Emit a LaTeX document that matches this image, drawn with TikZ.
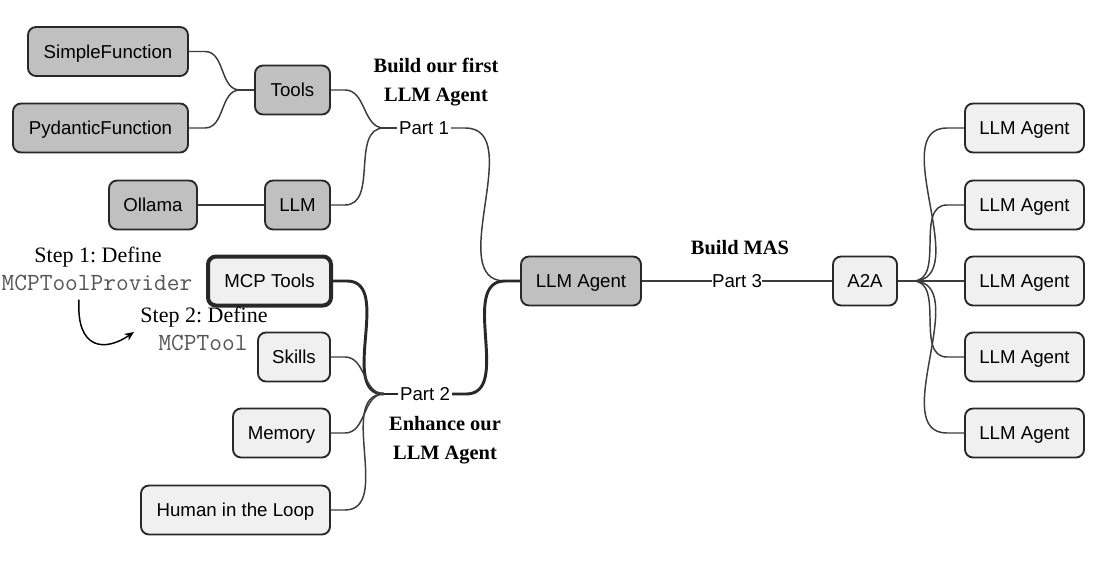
\documentclass[tikz,border=0pt]{standalone}
\usepackage{fontspec}
\setmainfont{Liberation Serif}
\newfontfamily\boxfont{Liberation Sans}
\usetikzlibrary{arrows.meta,calc}
\definecolor{darkfill}{RGB}{192,192,192}
\definecolor{lightfill}{RGB}{240,240,240}
\definecolor{edgecol}{RGB}{40,40,40}
\definecolor{linecol}{RGB}{60,60,60}
\definecolor{codegray}{RGB}{85,85,85}
\frenchspacing
\begin{document}
\begin{tikzpicture}[x=0.75pt,y=-0.75pt,
  box/.style={draw=edgecol, line width=1.4pt, rounded corners=6pt,
    font=\boxfont\fontsize{14}{17}\selectfont, minimum height=36.75pt, inner sep=0pt,
    text height=10pt, text depth=0pt},
  dbox/.style={box, fill=darkfill},
  lbox/.style={box, fill=lightfill},
  part/.style={font=\boxfont\fontsize{14}{17}\selectfont, inner xsep=1.5pt, inner ysep=0pt,
    text height=10pt, text depth=0pt},
  title/.style={font=\bfseries\fontsize{15.3}{21.75}\selectfont, align=center},
  steplbl/.style={font=\fontsize{16.5}{20}\selectfont},
  code/.style={font=\ttfamily\fontsize{18.5}{22}\selectfont, text=codegray},
  conn/.style={draw=linecol, line width=1.1pt},
  thick conn/.style={draw=edgecol, line width=2.2pt},
]
\useasboundingbox (0,0) rectangle (1100,564);

% Part 1 subtree
\node[dbox, minimum width=120pt] (sf) at (108,51.5) {SimpleFunction};
\node[dbox, minimum width=131.25pt] (pf) at (100.5,128) {PydanticFunction};
\node[dbox, minimum width=56.25pt] (tools) at (292.5,90) {Tools};
\node[dbox, minimum width=66pt] (ollama) at (153,205) {Ollama};
\node[dbox, minimum width=48.75pt] (llm) at (297.5,205) {LLM};
\node[part] (p1) at (424,128) {Part 1};
\node[title] (t1) at (436,82) {Build our first\\LLM Agent};
\coordinate (bt) at (240,90);
\coordinate (b1) at (384,128);

% Part 2 subtree
\node[lbox, minimum width=92.25pt, line width=3pt] (mcp) at (269.5,281) {MCP Tools};
\node[lbox, minimum width=54pt] (skills) at (294,357) {Skills};
\node[lbox, minimum width=72.75pt] (mem) at (281.5,433) {Memory};
\node[lbox, minimum width=141.75pt] (hitl) at (235.5,510) {Human in the Loop};
\node[part] (p2) at (425,394) {Part 2};
\node[title] (t2) at (445,440) {Enhance our\\LLM Agent};
\coordinate (b2) at (384,394);

% centre
\node[dbox, minimum width=90pt] (la) at (581,281) {LLM Agent};
\coordinate (laIn) at (505,281);
\node[part, inner xsep=0pt] (p3) at (737,281) {Part 3};
\node[title] (t3) at (740,248) {Build MAS};
\node[lbox, minimum width=48pt] (a2a) at (865,281) {A2A};
\coordinate (b3) at (913,281);

% right agents
\foreach \i/\y in {1/128,2/205,3/281,4/357,5/433}{
  \node[lbox, minimum width=89.25pt] (ag\i) at (1024.5,\y) {LLM Agent};
}

% step annotations
\node[steplbl] (s1) at (98,257) {Step 1: Define};
\node[code] (c1) at (97,283) {MCPToolProvider};
\node[steplbl] (s2) at (204,317) {Step 2: Define};
\node[code] (c2) at (203,343) {MCPTool};
\coordinate (arrEnd) at (134,332);
\draw[line width=1.1pt, -{Stealth[length=7pt,width=6pt]}]
  ($(c1.south)+(-18,4)$) .. controls (76,350) and (105,352) .. (arrEnd);

% connectors part 1
\draw[conn] (sf.east) -- ++(16,0) to[out=0,in=180] (bt);
\draw[conn] (pf.east) -- ++(16,0) to[out=0,in=180] (bt);
\draw[conn] (bt) -- (tools.west);
\draw[conn] (ollama.east) -- (llm.west);
\draw[conn] (tools.east) -- ++(14,0) to[out=0,in=180] (b1);
\draw[conn] (llm.east) -- ++(14,0) to[out=0,in=180] (b1);
\draw[conn] (b1) -- (p1.west);
\draw[conn] (p1.east) -- ++(14,0) to[out=0,in=180] (laIn) -- (la.west);

% connectors part 2
\draw[thick conn] (mcp.east) -- ++(14,0) to[out=0,in=180] (b2);
\draw[conn] (skills.east) -- ++(14,0) to[out=0,in=180] (b2);
\draw[conn] (mem.east) -- ++(14,0) to[out=0,in=180] (b2);
\draw[conn] (hitl.east) -- ++(14,0) to[out=0,in=180] (b2);
\draw[thick conn] (b2) -- (p2.west);
\draw[thick conn] (p2.east) -- ++(14,0) to[out=0,in=180] (laIn) -- (la.west);

% part 3
\draw[conn] (la.east) -- (p3.west);
\draw[conn] (p3.east) -- (a2a.west);
\draw[conn] (a2a.east) -- (b3);
\foreach \i in {1,...,5}{
  \draw[conn] (b3) to[out=0,in=180] ($(ag\i.west)+(-17,0)$) -- (ag\i.west);
}
\end{tikzpicture}
\end{document}
